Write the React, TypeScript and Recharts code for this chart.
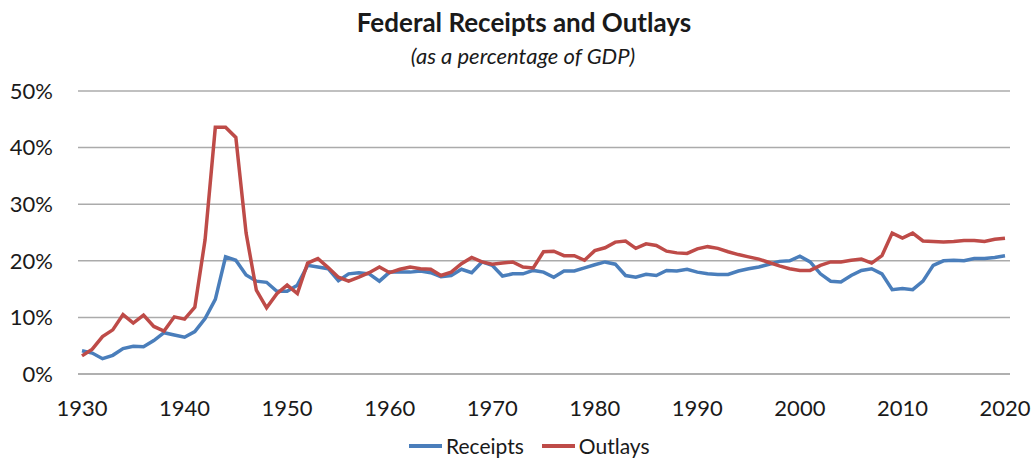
import React from "react";
import { LineChart, Line, XAxis, YAxis, CartesianGrid } from "recharts";

const years: number[] = [
  1930, 1931, 1932, 1933, 1934, 1935, 1936, 1937, 1938, 1939,
  1940, 1941, 1942, 1943, 1944, 1945, 1946, 1947, 1948, 1949,
  1950, 1951, 1952, 1953, 1954, 1955, 1956, 1957, 1958, 1959,
  1960, 1961, 1962, 1963, 1964, 1965, 1966, 1967, 1968, 1969,
  1970, 1971, 1972, 1973, 1974, 1975, 1976, 1977, 1978, 1979,
  1980, 1981, 1982, 1983, 1984, 1985, 1986, 1987, 1988, 1989,
  1990, 1991, 1992, 1993, 1994, 1995, 1996, 1997, 1998, 1999,
  2000, 2001, 2002, 2003, 2004, 2005, 2006, 2007, 2008, 2009,
  2010, 2011, 2012, 2013, 2014, 2015, 2016, 2017, 2018, 2019,
  2020,
];

const receipts: number[] = [
  4.1, 3.7, 2.7, 3.3, 4.5, 4.9, 4.8, 5.9, 7.3, 6.9,
  6.5, 7.5, 9.8, 13.2, 20.7, 20.1, 17.5, 16.4, 16.2, 14.6,
  14.6, 15.7, 19.2, 18.9, 18.6, 16.5, 17.7, 17.9, 17.7, 16.4,
  18.0, 18.0, 18.0, 18.2, 17.9, 17.2, 17.4, 18.5, 17.9, 19.8,
  19.2, 17.3, 17.7, 17.7, 18.3, 18.0, 17.1, 18.2, 18.2, 18.75,
  19.3, 19.8, 19.4, 17.4, 17.1, 17.6, 17.4, 18.3, 18.2, 18.5,
  18.0, 17.7, 17.6, 17.6, 18.2, 18.6, 18.9, 19.4, 19.9, 20.0,
  20.8, 19.8, 17.7, 16.4, 16.25, 17.4, 18.3, 18.6, 17.7, 14.9,
  15.1, 14.9, 16.4, 19.2, 20.0, 20.1, 20.0, 20.4, 20.4, 20.6,
  20.9,
];

const outlays: number[] = [
  3.2, 4.4, 6.6, 7.8, 10.5, 9.0, 10.4, 8.4, 7.6, 10.1,
  9.7, 11.8, 23.7, 43.6, 43.6, 41.8, 24.9, 14.8, 11.7, 14.2,
  15.7, 14.2, 19.6, 20.4, 18.8, 17.1, 16.4, 17.1, 17.9, 18.9,
  17.9, 18.5, 18.9, 18.6, 18.5, 17.4, 18.0, 19.5, 20.6, 19.8,
  19.4, 19.6, 19.8, 18.9, 18.75, 21.6, 21.7, 20.9, 20.9, 20.1,
  21.8, 22.3, 23.3, 23.5, 22.2, 23.0, 22.7, 21.7, 21.4, 21.3,
  22.1, 22.5, 22.2, 21.6, 21.1, 20.7, 20.3, 19.7, 19.1, 18.6,
  18.3, 18.3, 19.2, 19.8, 19.8, 20.1, 20.3, 19.6, 20.9, 24.9,
  24.0, 24.9, 23.5, 23.4, 23.3, 23.4, 23.6, 23.6, 23.4, 23.8,
  24.0,
];

const xTicks: number[] = [1930, 1940, 1950, 1960, 1970, 1980, 1990, 2000, 2010, 2020];
const yTicks: number[] = [0, 10, 20, 30, 40, 50];

const seriesNames = { receipts: "Receipts", outlays: "Outlays" };
const colors = { receipts: "#4A7EBB", outlays: "#BE4B48" };

const data = years.map((y, i) => ({ year: y, receipts: receipts[i], outlays: outlays[i] }));

const FONT = "Lato, 'Open Sans', sans-serif";
const TEXT = "#1a1a1a";

export default function App() {
  return (
    <div
      style={{
        position: "absolute",
        left: 0,
        top: 0,
        width: 1033,
        height: 460,
        background: "#fff",
        fontFamily: FONT,
        overflow: "hidden",
      }}
    >
      <div
        style={{
          position: "absolute",
          left: 0,
          width: 1048,
          top: 6,
          textAlign: "center",
          fontSize: 26,
          fontWeight: 700,
          color: TEXT,
          lineHeight: "32px",
        }}
      >
        Federal Receipts and Outlays
      </div>
      <div
        style={{
          position: "absolute",
          left: 0,
          width: 1046,
          top: 42,
          textAlign: "center",
          fontSize: 22,
          fontStyle: "italic",
          color: TEXT,
          lineHeight: "28px",
        }}
      >
        (as a percentage of GDP)
      </div>
      <LineChart
        width={1033}
        height={460}
        data={data}
        margin={{ top: 91, right: 23, left: 18, bottom: 46 }}
      >
        <CartesianGrid vertical={false} stroke="#ababab" strokeWidth={1.5} />
        <XAxis
          dataKey="year"
          type="number"
          domain={[1930, 2020]}
          ticks={xTicks}
          padding={{ left: 4, right: 5 }}
          tickLine={false}
          axisLine={{ stroke: "#ababab", strokeWidth: 1.5 }}
          tickSize={6}
          tickMargin={20}
          height={40}
          tick={{ fontSize: 22, fill: TEXT, fontFamily: FONT }}
        />
        <YAxis
          type="number"
          domain={[0, 50]}
          ticks={yTicks}
          width={60}
          tickLine={false}
          axisLine={false}
          tickSize={6}
          tickMargin={19}
          tickFormatter={(v: number) => `${v}%`}
          tick={{ fontSize: 22, fill: TEXT, fontFamily: FONT }}
        />
        <Line
          type="linear"
          dataKey="receipts"
          name={seriesNames.receipts}
          stroke={colors.receipts}
          strokeWidth={3.5}
          dot={false}
          isAnimationActive={false}
        />
        <Line
          type="linear"
          dataKey="outlays"
          name={seriesNames.outlays}
          stroke={colors.outlays}
          strokeWidth={3.5}
          dot={false}
          isAnimationActive={false}
        />
      </LineChart>
      <div
        style={{
          position: "absolute",
          left: 409,
          top: 434,
          display: "flex",
          alignItems: "center",
          fontSize: 21,
          color: TEXT,
          lineHeight: "24px",
          whiteSpace: "nowrap",
        }}
      >
        <span style={{ display: "inline-block", width: 33, height: 4, background: colors.receipts, marginRight: 4 }} />
        <span style={{ marginRight: 18 }}>{seriesNames.receipts}</span>
        <span style={{ display: "inline-block", width: 33, height: 4, background: colors.outlays, marginRight: 4 }} />
        <span>{seriesNames.outlays}</span>
      </div>
    </div>
  );
}
